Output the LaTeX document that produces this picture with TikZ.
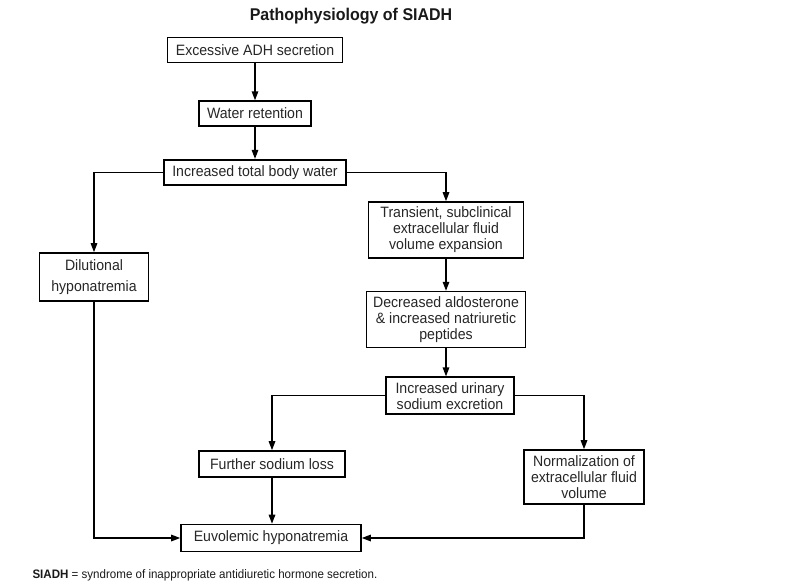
\documentclass[tikz,border=0pt]{standalone}
\usepackage{fontspec}
\setmainfont{Liberation Sans}[FakeStretch=0.94]
\usetikzlibrary{positioning, arrows.meta}

\begin{document}
\begin{tikzpicture}[
		x=1pt, y=1pt,
		node distance=32pt and 40pt,
		box/.style={rectangle, draw, line width=1.6pt, minimum height=25pt, inner xsep=5pt, inner ysep=5pt, align=center, text=black!85, font=\fontsize{15}{16}\selectfont},
		arrow/.style={-{Triangle[length=9pt, width=6.5pt]}, line width=1.4pt},
		every node/.style={font=\fontsize{15}{16}\selectfont}
		]
		\useasboundingbox (0,0) rectangle (805,-584);

		\node[font=\bfseries\fontsize{17}{20}\selectfont, text=black!90] (title) at (351,-16) {Pathophysiology of SIADH};

		\node[box, minimum width=175pt] (adh) at (255,-50) {Excessive ADH secretion};
		\node[box, minimum width=112pt, below=37pt of adh] (water) {Water retention};
		\node[box, minimum width=182pt, below=32pt of water] (tbw) {Increased total body water};

		\node[box, minimum width=109pt, minimum height=48pt, font=\fontsize{15}{21}\selectfont] (dilut) at (94,-277) {Dilutional\\hyponatremia};
		\node[box, minimum width=155pt, minimum height=54pt] (ecf) at (446,-230) {Transient, subclinical\\extracellular fluid\\volume expansion};
		\node[box, minimum width=159pt, minimum height=56pt, below=32pt of ecf] (aldo) {Decreased aldosterone\\\& increased natriuretic\\peptides};
		\node[box, minimum width=128pt, minimum height=37pt, below=28pt of aldo, xshift=4pt] (urine) {Increased urinary\\sodium excretion};

		\node[box, minimum width=146pt, minimum height=26pt] (naloss) at (272,-464) {Further sodium loss};
		\node[box, minimum width=120pt, minimum height=54pt] (normal) at (584,-477) {Normalization of\\extracellular fluid\\volume};
		\node[box, minimum width=180pt, minimum height=27pt] (euvol) at (271,-538) {Euvolemic hyponatremia};

		\node[anchor=west, text=black!90, font=\fontsize{12.3}{14}\selectfont] (note) at (29,-575) {\textbf{SIADH} = syndrome of inappropriate antidiuretic hormone secretion.};

		\draw[arrow] (adh) -- (water);
		\draw[arrow] (water) -- (tbw);
		\draw[arrow] (tbw.west) -| (dilut.north);
		\draw[arrow] (tbw.east) -| (ecf.north);
		\draw[arrow] (ecf) -- (ecf.south |- aldo.north);
		\draw[arrow] (aldo) -- (aldo.south |- urine.north);
		\draw[arrow] (urine.west) -| (naloss.north);
		\draw[arrow] (urine.east) -| (normal.north);
		\draw[arrow] (naloss) -- (naloss.south |- euvol.north);
		\draw[arrow] (dilut.south) |- (euvol.west);
		\draw[arrow] (normal.south) |- (euvol.east);
	\end{tikzpicture}
\end{document}
